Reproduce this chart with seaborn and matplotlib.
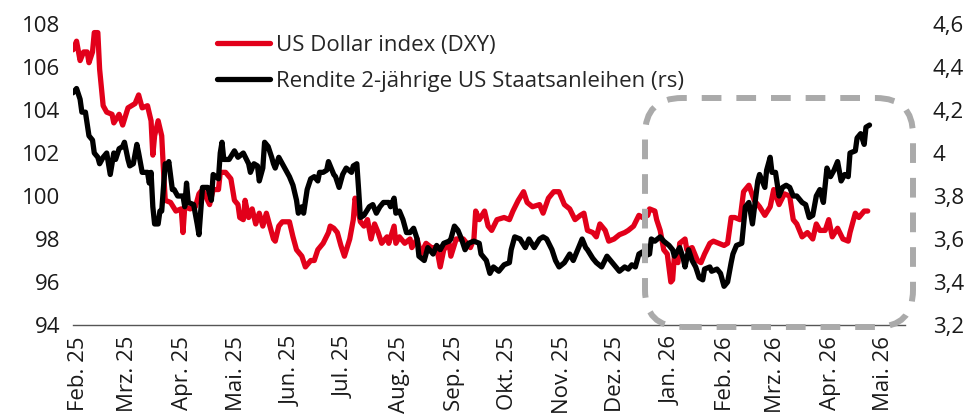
import numpy as np
import pandas as pd
import seaborn as sns
import matplotlib.pyplot as plt
from matplotlib.patches import FancyBboxPatch

# Data (day offset from 1 Feb 2025, value)
dxy_points = [
    (-3, 106.8), (-1, 107.2), (1, 106.3), (3, 106.7), (5, 106.7), (6, 106.2), (8, 106.7), (9, 107.6),
    (11, 107.6), (12, 105.9), (14, 104.2), (16, 103.9), (19, 103.8), (20, 103.4), (23, 103.8), (25, 103.3),
    (28, 104.1), (32, 104.3), (34, 104.7), (36, 104.1), (39, 104.2), (41, 103.5), (42, 101.9), (43, 102.8),
    (45, 103.5), (47, 102.8), (48, 101.2), (49, 99.8), (52, 99.7), (55, 99.3), (58, 99.4), (59, 98.3),
    (60, 99.5), (63, 99.4), (66, 99.5), (68, 100.1), (70, 100.3), (74, 99.6), (76, 100.3), (79, 100.3),
    (80, 101.1), (83, 101.1), (86, 100.8), (88, 99.8), (90, 99.6), (91, 99.0), (93, 98.9), (94, 99.8),
    (96, 99.0), (98, 99.4), (100, 98.7), (102, 99.2), (104, 98.6), (106, 99.2), (107, 98.9), (110, 98.0),
    (111, 97.9), (113, 98.6), (115, 98.8), (119, 98.8), (121, 98.1), (123, 97.5), (126, 97.2), (128, 96.7),
    (131, 97.0), (133, 97.0), (135, 97.5), (138, 97.8), (141, 98.3), (142, 98.6), (144, 98.5), (146, 98.3),
    (148, 97.7), (150, 97.2), (153, 98.0), (155, 98.9), (156, 99.9), (158, 99.2), (159, 98.8), (161, 98.6),
    (163, 98.9), (165, 98.0), (167, 98.7), (169, 98.3), (171, 97.8), (174, 98.1), (175, 97.8), (178, 98.6),
    (179, 97.8), (181, 98.1), (184, 97.8), (187, 98.0), (188, 97.6), (191, 98.0), (193, 97.3), (196, 97.8),
    (199, 97.6), (202, 97.6), (204, 96.7), (206, 97.5), (209, 97.8), (210, 97.2), (213, 98.0), (217, 98.0),
    (221, 97.6), (223, 98.0), (224, 99.3), (226, 98.9), (229, 99.3), (231, 98.6), (233, 98.4), (236, 98.9),
    (240, 99.0), (243, 98.9), (245, 99.3), (248, 99.8), (251, 100.2), (253, 99.7), (256, 99.5), (260, 99.6),
    (262, 99.2), (265, 99.9), (268, 100.2), (271, 100.2), (274, 99.6), (277, 99.4), (280, 98.9), (283, 99.1),
    (285, 99.2), (287, 98.4), (290, 98.3), (292, 98.1), (294, 98.7), (297, 98.4), (299, 97.9), (302, 98.0),
    (305, 98.2), (308, 98.3), (310, 98.4), (313, 98.6), (316, 99.1), (318, 99.0), (321, 99.1), (322, 99.4),
    (325, 99.3), (326, 98.9), (328, 98.4), (330, 97.5), (332, 97.3), (334, 96.0), (335, 96.1), (336, 97.2),
    (338, 96.9), (339, 97.8), (342, 98.0), (343, 97.5), (346, 97.6), (349, 97.0), (351, 96.9), (353, 97.3),
    (356, 97.8), (358, 97.9), (361, 97.8), (364, 97.7), (366, 97.8), (368, 99.0), (370, 99.0), (373, 98.9),
    (375, 100.2), (378, 100.5), (381, 99.8), (384, 99.5), (387, 99.1), (390, 99.5), (392, 100.3), (395, 99.6),
    (398, 100.1), (401, 100.0), (403, 98.9), (405, 98.7), (408, 98.1), (411, 98.3), (414, 98.0), (416, 98.7),
    (418, 98.4), (421, 98.4), (423, 98.9), (425, 98.1), (428, 98.5), (431, 98.0), (434, 97.9), (435, 98.3),
    (438, 99.2), (440, 99.0), (443, 99.3), (445, 99.3),
]

yield_points = [
    (-3, 4.28), (-1, 4.30), (1, 4.25), (2, 4.19), (4, 4.19), (6, 4.08), (8, 4.06), (9, 4.00), (11, 3.98),
    (12, 3.95), (14, 3.98), (16, 4.00), (18, 3.90), (20, 4.00), (21, 3.97), (23, 4.02), (25, 4.03), (26, 4.05),
    (28, 3.97), (29, 3.94), (31, 3.95), (33, 4.04), (34, 4.00), (36, 3.91), (39, 3.91), (40, 3.86), (41, 3.91),
    (42, 3.75), (43, 3.67), (45, 3.67), (46, 3.73), (47, 3.73), (49, 3.95), (50, 3.93), (51, 3.96), (53, 3.83),
    (54, 3.83), (56, 3.80), (59, 3.80), (60, 3.75), (61, 3.86), (62, 3.77), (65, 3.76), (67, 3.67), (68, 3.62),
    (70, 3.84), (73, 3.84), (75, 3.78), (76, 3.90), (79, 3.88), (80, 4.00), (81, 4.05), (82, 3.97), (85, 3.97),
    (88, 4.01), (90, 3.98), (93, 4.00), (96, 3.95), (97, 3.91), (99, 3.95), (101, 3.94), (102, 3.87), (104, 3.93),
    (105, 4.05), (107, 4.03), (109, 3.98), (110, 3.95), (111, 3.93), (113, 3.98), (115, 3.95), (117, 3.92),
    (119, 3.89), (121, 3.85), (123, 3.78), (124, 3.72), (126, 3.75), (127, 3.72), (129, 3.83), (131, 3.88),
    (133, 3.89), (135, 3.87), (136, 3.91), (138, 3.91), (140, 3.92), (141, 3.96), (144, 3.90), (145, 3.89),
    (147, 3.84), (149, 3.90), (151, 3.93), (154, 3.91), (155, 3.94), (157, 3.95), (158, 3.83), (159, 3.70),
    (161, 3.71), (164, 3.75), (166, 3.76), (168, 3.72), (170, 3.75), (172, 3.77), (175, 3.77), (176, 3.75),
    (178, 3.79), (179, 3.72), (181, 3.73), (183, 3.69), (185, 3.63), (187, 3.63), (189, 3.65), (191, 3.60),
    (192, 3.52), (195, 3.50), (197, 3.56), (200, 3.53), (202, 3.57), (204, 3.55), (206, 3.58), (209, 3.59),
    (210, 3.60), (212, 3.66), (214, 3.64), (216, 3.60), (218, 3.55), (220, 3.58), (223, 3.59), (226, 3.58),
    (227, 3.53), (230, 3.50), (232, 3.44), (234, 3.47), (237, 3.45), (240, 3.48), (243, 3.49), (244, 3.55),
    (246, 3.61), (249, 3.60), (252, 3.56), (254, 3.60), (257, 3.56), (260, 3.60), (262, 3.61), (264, 3.60),
    (267, 3.55), (269, 3.50), (271, 3.47), (274, 3.49), (277, 3.53), (279, 3.50), (282, 3.56), (284, 3.60),
    (286, 3.56), (287, 3.55), (290, 3.51), (292, 3.49), (295, 3.47), (298, 3.52), (300, 3.50), (302, 3.48),
    (305, 3.45), (308, 3.47), (310, 3.46), (312, 3.48), (314, 3.47), (316, 3.53), (318, 3.54), (319, 3.52),
    (322, 3.53), (323, 3.60), (325, 3.59), (328, 3.61), (330, 3.59), (333, 3.57), (335, 3.55), (336, 3.52),
    (339, 3.56), (341, 3.51), (342, 3.47), (344, 3.55), (346, 3.50), (348, 3.47), (350, 3.42), (352, 3.41),
    (353, 3.46), (356, 3.47), (357, 3.45), (360, 3.46), (362, 3.44), (364, 3.38), (366, 3.40), (368, 3.49),
    (369, 3.53), (371, 3.57), (374, 3.58), (376, 3.75), (378, 3.77), (380, 3.67), (383, 3.87), (384, 3.90),
    (387, 3.84), (388, 3.92), (390, 3.98), (391, 3.91), (393, 3.91), (395, 3.80), (397, 3.84), (399, 3.85),
    (401, 3.84), (403, 3.80), (405, 3.80), (408, 3.77), (410, 3.76), (412, 3.70), (414, 3.71), (416, 3.80),
    (418, 3.83), (420, 3.77), (422, 3.93), (424, 3.89), (426, 3.92), (428, 3.96), (430, 3.87), (432, 3.90),
    (434, 3.89), (435, 4.00), (438, 4.01), (439, 4.07), (441, 4.09), (443, 4.04), (444, 4.12), (446, 4.13),
]

month_labels = ["Feb. 25", "Mrz. 25", "Apr. 25", "Mai. 25", "Jun. 25", "Jul. 25", "Aug. 25", "Sep. 25",
                "Okt. 25", "Nov. 25", "Dez. 25", "Jan. 26", "Feb. 26", "Mrz. 26", "Apr. 26", "Mai. 26"]
left_ticks = [94, 96, 98, 100, 102, 104, 106, 108]
right_ticks = [3.2, 3.4, 3.6, 3.8, 4.0, 4.2, 4.4, 4.6]

start = pd.Timestamp("2025-02-01")
dxy_days, dxy_values = zip(*dxy_points)
yield_days, yield_values = zip(*yield_points)
dxy = pd.DataFrame({"date": start + pd.to_timedelta(dxy_days, unit="D"), "value": dxy_values})
yld = pd.DataFrame({"date": start + pd.to_timedelta(yield_days, unit="D"), "value": yield_values})

sns.set_style("white")
plt.rcParams["font.family"] = ["Open Sans", "DejaVu Sans"]

RED = "#E2001A"
TXT = "#1a1a1a"
fig = plt.figure(figsize=(9.66, 4.2), dpi=100)
ax = fig.add_axes([73 / 966, 1 - 325 / 420, (905 - 73) / 966, (325 - 24) / 420])
ax2 = ax.twinx()

sns.lineplot(data=dxy, x="date", y="value", ax=ax, color=RED, lw=3.8,
             estimator=None, sort=False, errorbar=None, label="US Dollar index (DXY)", legend=False)
sns.lineplot(data=yld, x="date", y="value", ax=ax2, color="black", lw=3.8,
             estimator=None, sort=False, errorbar=None, label="Rendite 2-jährige US Staatsanleihen (rs)",
             legend=False)

ax.set_xlim(pd.Timestamp("2025-01-29"), pd.Timestamp("2026-05-13"))
ax.set_ylim(94, 108)
ax2.set_ylim(3.2, 4.6)
ax.set_xlabel("")
ax.set_ylabel("")
ax2.set_ylabel("")

ticks = pd.date_range("2025-02-01", periods=len(month_labels), freq="MS")
ax.set_xticks(ticks)
ax.set_xticklabels(month_labels, rotation=90, fontsize=16, color=TXT)
ax.set_yticks(left_ticks)
ax.set_yticklabels([str(t) for t in left_ticks], fontsize=16, color=TXT)
ax2.set_yticks(right_ticks)
ax2.set_yticklabels([f"{t:g}".replace(".", ",") for t in right_ticks], fontsize=16, color=TXT)

ax.tick_params(axis="x", length=0, pad=8)
ax.tick_params(axis="y", length=0, pad=9)
ax2.tick_params(axis="y", length=0, pad=20)

for a in (ax, ax2):
    for s in ("top", "left", "right", "bottom"):
        a.spines[s].set_visible(False)
    a.grid(False)
ax.spines["bottom"].set_visible(True)
ax.spines["bottom"].set_color("#555555")
ax.spines["bottom"].set_linewidth(1)

handles = ax.get_lines()[:1] + ax2.get_lines()[:1]
fig.legend(handles, [h.get_label() for h in handles], loc="upper left",
           bbox_to_anchor=(217 / 966, 1 - 35 / 420), frameon=False, fontsize=16,
           borderpad=0, borderaxespad=0, handlelength=2.4, handletextpad=0.25, labelspacing=0.68)

# dashed rounded highlight box (display pixels)
box = FancyBboxPatch((645, 420 - 327), 268, 229, boxstyle="round,pad=0,rounding_size=37",
                     transform=None, fill=False, edgecolor="#AAAAAA", lw=4.3,
                     linestyle=(0, (3.3, 2.5)), clip_on=False)
fig.add_artist(box)

fig.savefig("out.png", dpi=100)
